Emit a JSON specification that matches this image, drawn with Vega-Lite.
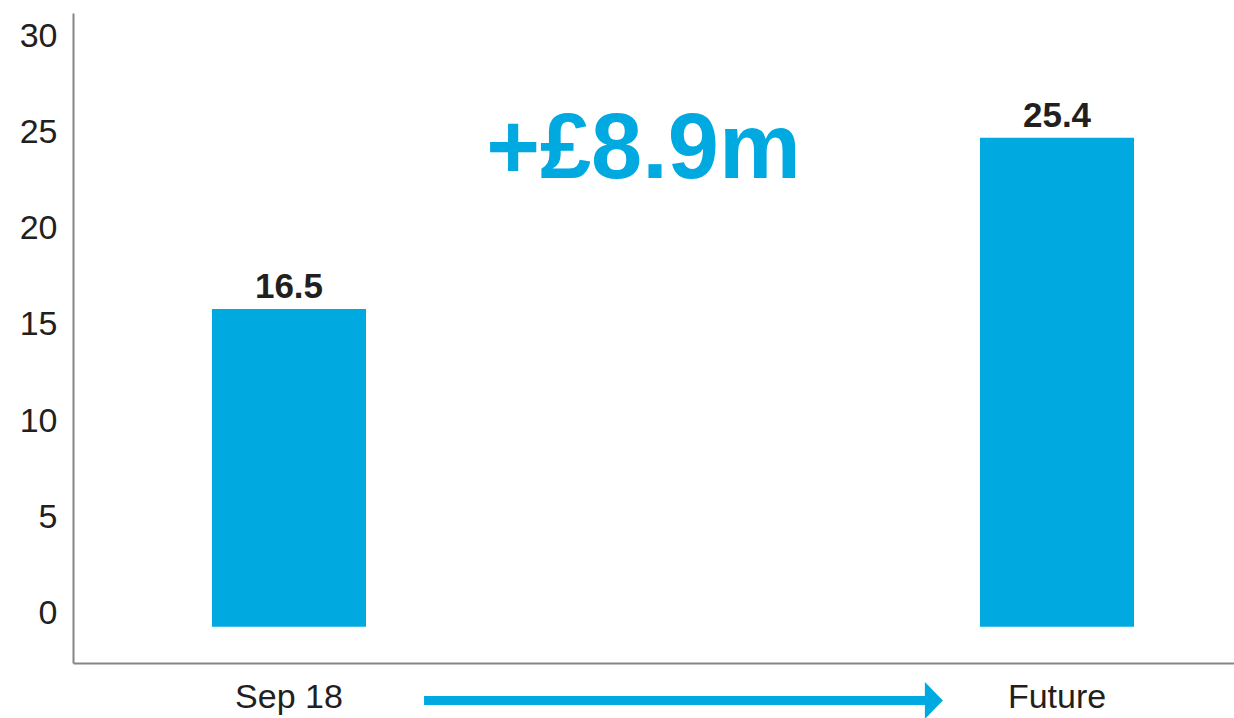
{
  "$schema": "https://vega.github.io/schema/vega-lite/v6.json",
  "width": 1161,
  "height": 650,
  "autosize": {"type": "none"},
  "padding": {"left": 73, "top": 13, "right": 0, "bottom": 55},
  "background": "white",
  "config": {"view": {"stroke": null}, "font": "Liberation Sans"},
  "title": {
    "text": "+£8.9m",
    "fontSize": 92,
    "fontWeight": "bold",
    "font": "Liberation Sans",
    "color": "#00a9e0",
    "anchor": "middle",
    "frame": "group",
    "baseline": "alphabetic",
    "offset": 0,
    "dx": -10,
    "dy": 257
  },
  "data": {"values": [
    {"period": "Sep 18", "value": 16.5},
    {"period": "Future", "value": 25.4}
  ]},
  "encoding": {
    "x": {
      "field": "period",
      "type": "nominal",
      "sort": null,
      "scale": {"domain": ["Sep 18", "Future"], "paddingInner": 0.7995, "paddingOuter": 0.1556, "align": 0.5816},
      "axis": {
        "title": null,
        "labelAngle": 0,
        "ticks": false,
        "grid": false,
        "domainColor": "#858585",
        "domainWidth": 2,
        "labelFontSize": 34,
        "labelFont": "Liberation Sans",
        "labelColor": "#231f20",
        "labelPadding": 17
      }
    }
  },
  "layer": [
    {
      "mark": {"type": "bar", "color": "#00a9e0"},
      "encoding": {
        "y": {
          "field": "value",
          "type": "quantitative",
          "scale": {"domain": [-1.886, 31.88], "nice": false, "zero": false},
          "axis": {
            "title": null,
            "values": [0, 5, 10, 15, 20, 25, 30],
            "ticks": false,
            "grid": false,
            "domainColor": "#858585",
            "domainWidth": 2,
            "labelFontSize": 34,
            "labelFont": "Liberation Sans",
            "labelColor": "#231f20",
            "labelPadding": 16,
            "labelOffset": -13
          }
        }
      }
    },
    {
      "mark": {"type": "text", "baseline": "alphabetic", "dy": -11, "fontSize": 35, "fontWeight": "bold", "font": "Liberation Sans", "color": "#231f20"},
      "encoding": {
        "y": {"field": "value", "type": "quantitative"},
        "text": {"field": "value", "type": "quantitative", "format": ".1f"}
      }
    },
    {
      "data": {"values": [{"arrow": "Sep 18 to Future"}]},
      "mark": {"type": "rule", "color": "#00a9e0", "strokeWidth": 9, "strokeCap": "butt"},
      "encoding": {
        "x": {"datum": "Sep 18", "bandPosition": 1.377},
        "x2": {"datum": "Sep 18", "bandPosition": 4.66},
        "y": {"datum": -3.834}
      }
    },
    {
      "data": {"values": [{"arrow": "Sep 18 to Future"}]},
      "mark": {"type": "point", "shape": "M-0.486,-1L0.486,0L-0.486,1Z", "size": 1369, "filled": true, "opacity": 1, "color": "#00a9e0"},
      "encoding": {
        "x": {"datum": "Sep 18", "bandPosition": 4.688},
        "y": {"datum": -3.834}
      }
    }
  ]
}
